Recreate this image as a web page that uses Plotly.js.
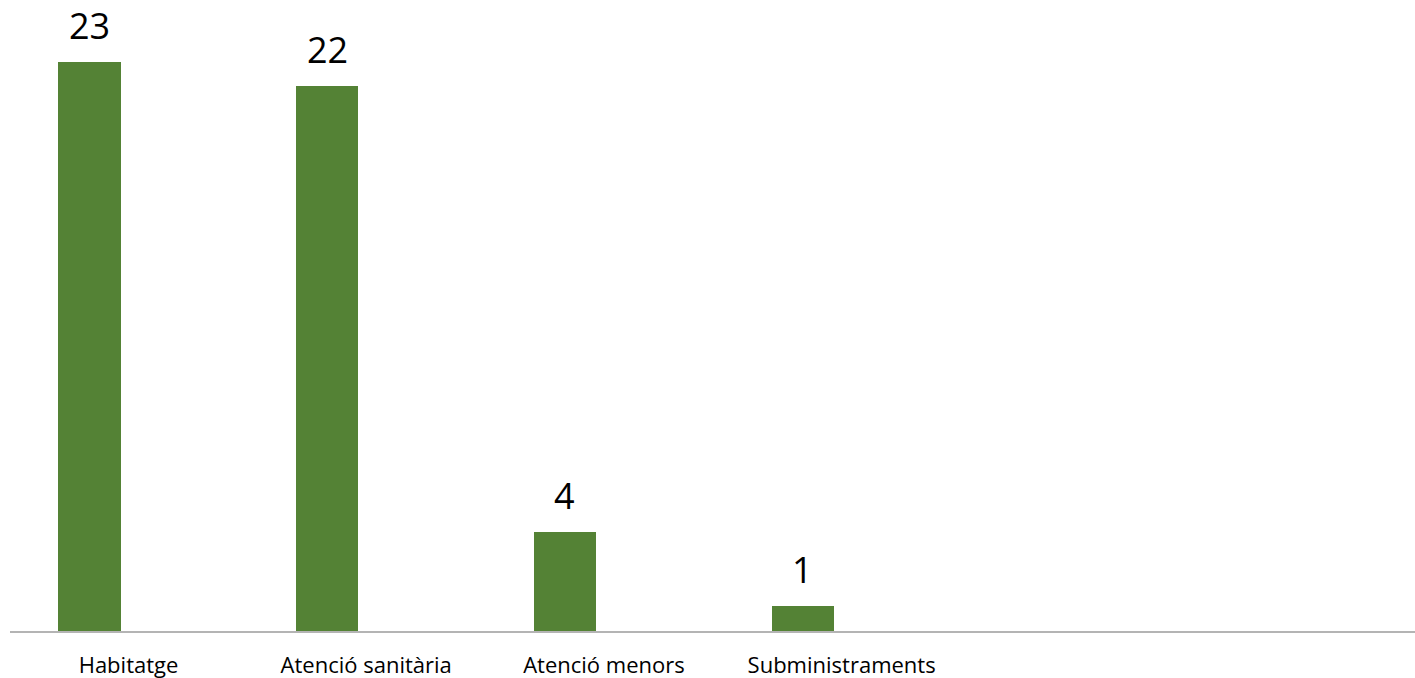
<!DOCTYPE html>
<html>
<head>
<meta charset="utf-8">
<script src="https://cdn.plot.ly/plotly-3.0.1.min.js"></script>
<style>html,body{margin:0;padding:0;background:#fff}#chart{width:1415px;height:678px}</style>
</head>
<body>
<div id="chart"></div>
<script>
const categories = ["Habitatge", "Atenció sanitària", "Atenció menors", "Subministraments"];
const values = [23, 22, 4, 1];

const BAR_WIDTH = 0.261;
const BAR_OFFSET = -0.2945;

const trace = {
  type: 'bar',
  x: categories,
  y: values,
  width: BAR_WIDTH,
  offset: BAR_OFFSET,
  marker: {color: '#548235'},
  hoverinfo: 'x+y'
};

const annotations = categories.map((c, i) => ({
  x: i + BAR_OFFSET + BAR_WIDTH / 2, y: values[i], xref: 'x', yref: 'y',
  text: String(values[i]),
  showarrow: false,
  yanchor: 'bottom',
  yshift: 11,
  borderpad: 0,
  font: {family: 'Open Sans, sans-serif', size: 36, color: '#000'}
}));

const layout = {
  width: 1415, height: 678,
  margin: {l: 10, r: 0, t: 0, b: 47},
  paper_bgcolor: '#fff', plot_bgcolor: '#fff',
  showlegend: false,
  bargap: 0,
  xaxis: {
    type: 'category',
    range: [-0.4985, 5.412],
    showgrid: false, zeroline: false,
    showline: true, linecolor: '#b4b4b4', linewidth: 1.5,
    ticks: 'outside', ticklen: 14, tickcolor: 'rgba(0,0,0,0)',
    tickfont: {family: 'Open Sans, sans-serif', size: 22, color: '#000'}
  },
  yaxis: {
    range: [0, 25.49],
    showgrid: false, zeroline: false, showline: false,
    showticklabels: false, ticks: ''
  },
  annotations: annotations
};

Plotly.newPlot('chart', [trace], layout, {displayModeBar: false, staticPlot: true});
</script>
</body>
</html>
